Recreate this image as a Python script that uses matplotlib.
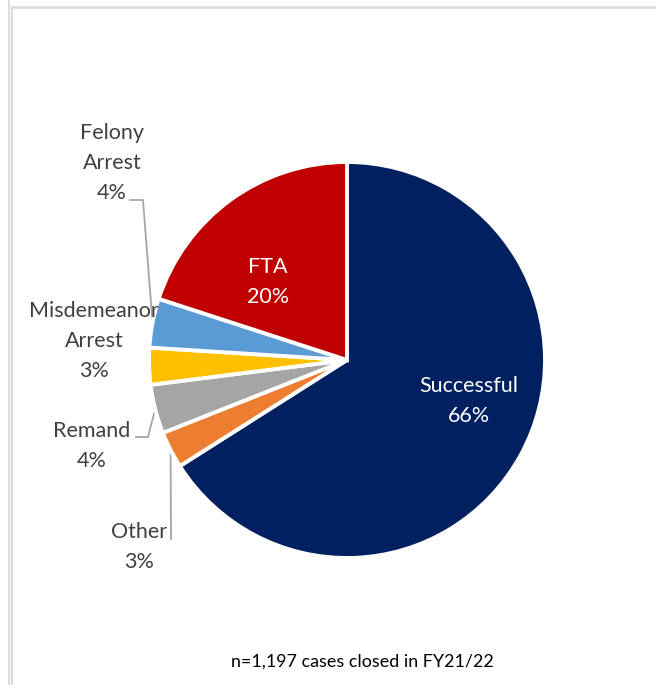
import matplotlib
matplotlib.use("Agg")
import matplotlib.pyplot as plt
from matplotlib.lines import Line2D
import numpy as np

# ---- data ----
categories = ["Successful", "Other", "Remand", "Misdemeanor\nArrest", "Felony\nArrest", "FTA"]
percents = [66, 3, 4, 3, 4, 20]
colors = ["#002060", "#ED7D31", "#A5A5A5", "#FFC000", "#5B9BD5", "#C00000"]
footnote = "n=1,197 cases closed in FY21/22"

W, H, DPI = 656, 685, 100
CX, CY, R = 347, 360, 198  # pie centre / radius in pixels

plt.rcParams['font.family'] = ['Lato', 'DejaVu Sans']
fig = plt.figure(figsize=(W / DPI, H / DPI), dpi=DPI)
ax = fig.add_axes([0, 0, 1, 1])

wedges, _ = ax.pie(percents, colors=colors, startangle=90, counterclock=False,
                   radius=1.0, center=(0, 0),
                   wedgeprops=dict(edgecolor="white", linewidth=2.8))
ax.set_aspect('auto')
ax.set_xlim(-CX / R, (W - CX) / R)
ax.set_ylim((CY - H) / R, CY / R)
ax.axis('off')

def px(x, y):
    return ((x - CX) / R, (CY - y) / R)

text_col = "#404040"
line_col = "#A6A6A6"
fs = 15.5

# label layout (pixel positions of label centres)
layout = {
    "Successful": dict(pos=(469, 401), color="white", elbow=None),
    "FTA": dict(pos=(268, 282), color="white", elbow=None),
    "Felony\nArrest": dict(pos=(112, 163), color=text_col, elbow=[(130, 200), (143, 200)]),
    "Misdemeanor\nArrest": dict(pos=(94, 341), color=text_col, elbow=None),
    "Remand": dict(pos=(92, 446), color=text_col, elbow=[(136, 437), (148, 437)]),
    "Other": dict(pos=(139, 547), color=text_col, elbow=[(171, 539), (171, 539)]),
}

for w, cat, p in zip(wedges, categories, percents):
    L = layout[cat]
    x, y = px(*L["pos"])
    ax.text(x, y, f"{cat}\n{p}%", ha="center", va="center", fontsize=fs,
            color=L["color"], linespacing=1.6, zorder=3)
    if L["elbow"] is not None:
        mid = np.deg2rad((w.theta1 + w.theta2) / 2)
        ex, ey = np.cos(mid), np.sin(mid)
        pts = [px(*q) for q in L["elbow"]] + [(ex, ey)]
        ax.add_line(Line2D([q[0] for q in pts], [q[1] for q in pts],
                           color=line_col, lw=1.3, zorder=0.5))

fig.text(362 / W, 1 - 662 / H, footnote, ha="center", va="center",
         fontsize=12.9, color="black")

# chart frame lines
fc = "#D9D9D9"
fig.add_artist(Line2D([8.5 / W, 8.5 / W], [0, 1], color=fc, lw=1.3, transform=fig.transFigure))
fig.add_artist(Line2D([11.5 / W, 11.5 / W], [0, 1 - 6.5 / H], color=fc, lw=1.5, transform=fig.transFigure))
fig.add_artist(Line2D([11.5 / W, 1], [1 - 6.5 / H, 1 - 6.5 / H], color=fc, lw=1.8, transform=fig.transFigure))

fig.savefig("out.png", dpi=DPI, facecolor="white")
